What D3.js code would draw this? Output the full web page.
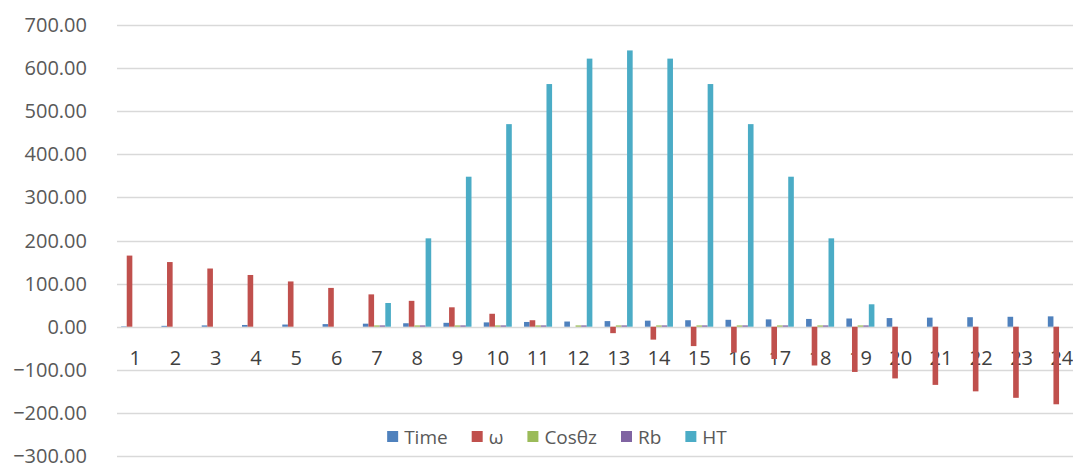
<!DOCTYPE html>
<html>
<head>
<meta charset="utf-8">
<script src="https://cdn.jsdelivr.net/npm/d3@7"></script>
<style>
  body { margin: 0; background: #fff; }
  svg text { font-family: "Open Sans", "Liberation Sans", Arial, sans-serif; }
</style>
</head>
<body>
<svg id="chart"></svg>
<script>
//chart data
const hours = ['1', '2', '3', '4', '5', '6', '7', '8', '9', '10', '11', '12',
  '13', '14', '15', '16', '17', '18', '19', '20', '21', '22', '23', '24'];
const seriesNames = ['Time', 'ω', 'Cosθz', 'Rb', 'HT'];
const timeVals = [1, 2, 3, 4, 5, 6, 7, 8, 9, 10, 11, 12, 13, 14, 15, 16, 17, 18, 19, 20, 21, 22, 23, 24];
const omegaVals = [165, 150, 135, 120, 105, 90, 75, 60, 45, 30, 15, 0,
  -15, -30, -45, -60, -75, -90, -105, -120, -135, -150, -165, -180];
const cosVals = [0, 0, 0, 0, 0, 0, 3, 3, 3, 3, 3, 3,
  3, 3, 3, 3, 3, 3, 3, 0, 0, 0, 0, 0];
const rbVals = [0, 0, 0, 0, 0, 0, 3, 3, 3, 3, 3, 3,
  3, 3, 3, 3, 3, 3, 3, 0, 0, 0, 0, 0];
const htVals = [0, 0, 0, 0, 0, 0, 55, 205, 348, 470, 563, 622,
  641, 622, 563, 470, 348, 205, 52, 0, 0, 0, 0, 0];
const yTicks = [-300, -200, -100, 0, 100, 200, 300, 400, 500, 600, 700];
const colors = ['#4f81bd', '#c0504d', '#9bbb59', '#8064a2', '#4bacc6'];

//dimensions
const width = 1073;
const height = 463;
const plotLeft = 115;
const plotRight = 1082;

const allVals = [timeVals, omegaVals, cosVals, rbVals, htVals];
const rows = hours.map((h, i) => ({
  hour: h,
  values: seriesNames.map((s, j) => ({ key: s, value: allVals[j][i] }))
}));

const svg = d3.select('#chart')
  .attr('width', width)
  .attr('height', height);

//scales
const x0 = d3.scaleBand()
  .domain(hours)
  .range([plotLeft, plotRight])
  .paddingInner(0.304)
  .paddingOuter(0.152);

const x1 = d3.scaleBand()
  .domain(seriesNames)
  .range([0, x0.bandwidth()]);

const y = d3.scaleLinear()
  .domain([-300, 700])
  .range([456, 25]);

const color = d3.scaleOrdinal()
  .domain(seriesNames)
  .range(colors);

//gridlines
svg.append('g')
  .selectAll('line')
  .data(yTicks)
  .enter()
  .append('line')
    .attr('x1', 117)
    .attr('x2', width)
    .attr('y1', d => Math.round(y(d)) + 0.5)
    .attr('y2', d => Math.round(y(d)) + 0.5)
    .attr('stroke', '#d9d9d9')
    .attr('stroke-width', 1.5);

//y labels
svg.append('g')
  .selectAll('text')
  .data(yTicks)
  .enter()
  .append('text')
    .attr('x', 87)
    .attr('y', d => y(d))
    .attr('dy', '0.35em')
    .attr('text-anchor', 'end')
    .attr('font-size', 20)
    .attr('fill', '#595959')
    .text(d => d3.format('.2f')(d));

//category labels next to zero line
svg.append('g')
  .selectAll('text')
  .data(hours)
  .enter()
  .append('text')
    .attr('x', d => x0(d) + x0.bandwidth() / 2)
    .attr('y', y(0) + 38)
    .attr('text-anchor', 'middle')
    .attr('font-size', 20)
    .attr('fill', '#404040')
    .text(d => d);

//bars
const groups = svg.append('g')
  .selectAll('g')
  .data(rows)
  .enter()
  .append('g')
    .attr('transform', d => `translate(${x0(d.hour)},0)`);

groups.selectAll('rect')
  .data(d => d.values)
  .enter()
  .append('rect')
    .attr('x', d => x1(d.key))
    .attr('width', x1.bandwidth())
    .attr('y', d => y(Math.max(0, d.value)))
    .attr('height', d => Math.abs(y(d.value) - y(0)))
    .attr('fill', d => color(d.key));

//legend
const legend = svg.append('g')
  .attr('transform', `translate(0, 437)`);

const items = legend.selectAll('g')
  .data(seriesNames)
  .enter()
  .append('g');

items.append('rect')
  .attr('width', 11)
  .attr('height', 11)
  .attr('y', -6)
  .attr('fill', d => color(d));

items.append('text')
  .attr('x', 17)
  .attr('dy', '0.35em')
  .attr('font-size', 19)
  .attr('fill', '#595959')
  .text(d => d);

//place legend items one after another, centred
let offsets = [];
let total = 0;
items.each(function(d, i) {
  let w = 17 + this.querySelector('text').getComputedTextLength();
  offsets.push(total);
  total += w + (i < seriesNames.length - 1 ? 24 : 0);
});
const legendStart = 557 - total / 2;
items.attr('transform', (d, i) => `translate(${legendStart + offsets[i]},0)`);
</script>
</body>
</html>
